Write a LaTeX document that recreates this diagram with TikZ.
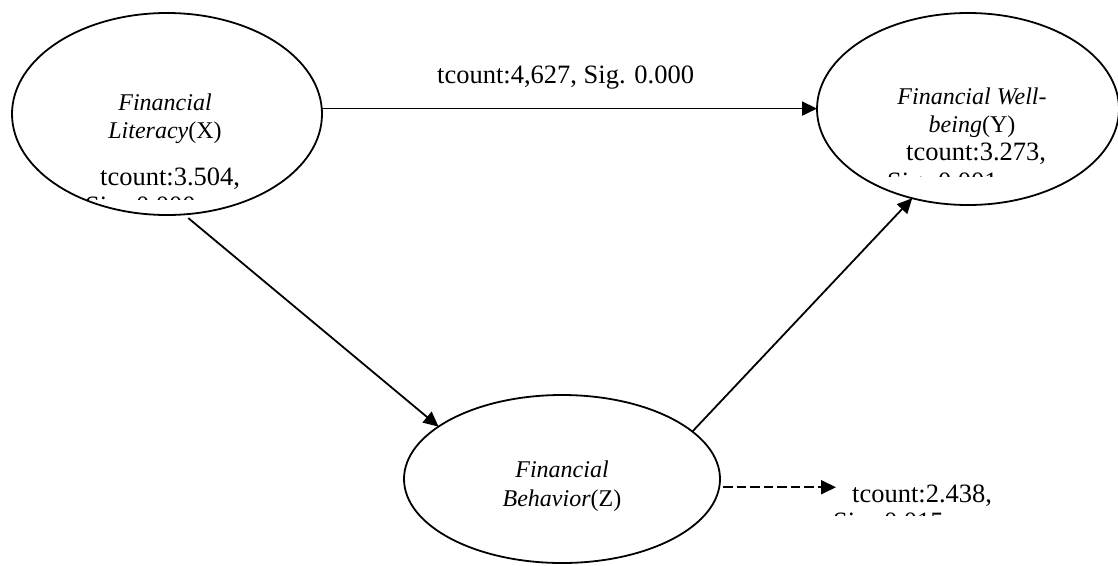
\documentclass[tikz,border=0pt]{standalone}
\usepackage{fontspec}
\setmainfont{Liberation Serif}
\usetikzlibrary{arrows.meta,shapes.geometric,calc}
\begin{document}
\begin{tikzpicture}[x=1pt,y=-1pt,
  ell/.style={draw,ellipse,line width=1.8pt,inner sep=0pt,outer sep=0pt},
  lbl/.style={inner sep=0pt,anchor=base,font=\fontsize{24}{28}\selectfont},
  tc/.style={inner sep=0pt,anchor=base west,font=\fontsize{26.5}{30}\selectfont},
  arr/.style={line width=1.8pt,-{Triangle[length=15pt,width=14pt]}},
  darr/.style={arr,dash pattern=on 9.5pt off 4pt}]
\useasboundingbox (0,0) rectangle (1118,565);
% ellipses
\node[ell,minimum width=310pt,minimum height=202pt] (X) at (167,114) {};
\node[ell,minimum width=302pt,minimum height=192pt] (Y) at (968,109) {};
\node[ell,minimum width=316pt,minimum height=168pt] (Z) at (562,479) {};
% texts
\node[tc] (t1) at (437,83) {tcount:4,627, Sig. 0.000};
\node[lbl] (xl1) at (165,110) {\textit{Financial}};
\node[lbl] (xl2) at (165,138) {\textit{Literacy}(X)};
\node[tc] (xt) at (100,185) {tcount:3.504,};
\begin{scope}
  \clip (0,0) rectangle (1118,199);
  \node[tc] (xs) at (85,214) {Sig. 0.000};
\end{scope}
\node[lbl] (yl1) at (972,104) {\textit{Financial Well-}};
\node[lbl] (yl2) at (972,132) {\textit{being}(Y)};
\node[tc] (yt) at (906,160) {tcount:3.273,};
\begin{scope}
  \clip (0,0) rectangle (1118,176);
  \node[tc] (ys) at (887,190.5) {Sig. 0.001};
\end{scope}
\node[lbl] (zl1) at (562,477) {\textit{Financial}};
\node[lbl] (zl2) at (562,506) {\textit{Behavior}(Z)};
\node[tc] (zt) at (852,502) {tcount:2.438,};
\begin{scope}
  \clip (0,0) rectangle (1118,515);
  \node[tc] (zs) at (833,530) {Sig. 0.015};
\end{scope}
% connectors
\draw[arr] (X.2.2) -- (X.2.2 -| Y.west);
\draw[arr] ([yshift=-4pt]X.-78) -- (Z.157);
\draw[arr] (Z.20.5) -- (Y.238.3);
\coordinate (dEnd) at (832,489);
\draw[darr] ([xshift=4pt]Z.-3.6) -- ([xshift=4pt]Z.-3.6 -| dEnd);
\end{tikzpicture}
\end{document}
